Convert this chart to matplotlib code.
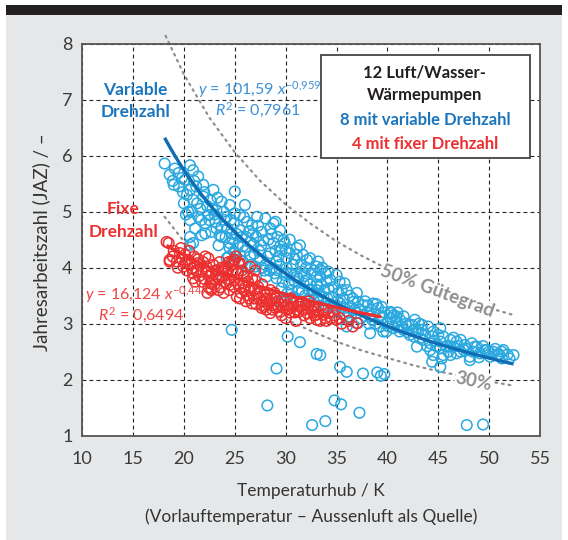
import matplotlib
matplotlib.use("Agg")
import matplotlib.pyplot as plt
from matplotlib.patches import Rectangle
import numpy as np

plt.rcParams['font.family'] = ['Lato', 'DejaVu Sans']
plt.rcParams['mathtext.fontset'] = 'custom'
plt.rcParams['mathtext.rm'] = 'Lato'
plt.rcParams['mathtext.it'] = 'Lato:italic'
plt.rcParams['mathtext.bf'] = 'Lato:bold'

# variable speed heat pumps (Temperaturhub K, JAZ)
var_points = [
    (18.1, 5.86), (18.6, 5.66), (19.0, 5.48), (19.1, 5.77), (18.9, 5.55),
    (19.45, 5.69), (19.8, 5.6), (20.1, 5.57), (20.4, 5.0), (20.6, 5.83), (20.6, 5.39),
    (20.6, 4.85), (20.6, 4.55), (20.6, 4.41), (20.9, 5.74), (20.9, 5.21), (20.9, 4.44),
    (20.3, 5.3), (20.0, 5.15),
    (21.1, 4.70), (21.4, 5.63), (21.4, 4.91), (21.75, 4.58), (21.9, 5.48), (21.9, 5.27),
    (22.1, 4.79), (22.1, 4.61), (21.6, 5.05), (22.3, 5.1), (21.2, 5.45), (22.4, 4.94),
    (22.7, 4.64), (22.9, 5.39), (23.1, 4.82), (23.2, 5.03), (23.5, 4.58), (23.7, 5.18),
    (23.7, 4.73), (23.7, 4.55), (22.6, 5.2), (23.0, 4.95), (23.4, 4.4), (23.3, 5.25),
    (24.2, 4.91), (24.2, 4.17), (24.5, 5.12), (24.5, 4.44), (24.5, 4.35), (24.7, 4.61),
    (24.9, 4.79), (24.9, 4.29), (25.0, 4.97), (25.0, 4.26), (25.0, 5.36), (24.3, 4.7),
    (24.8, 4.5), (24.0, 4.85), (25.2, 4.6),
    (25.5, 4.94), (25.5, 4.67), (25.5, 4.23), (25.8, 4.38), (25.8, 4.11), (26.0, 5.12),
    (26.2, 4.82), (26.5, 4.20), (26.5, 4.46), (26.7, 4.76), (26.8, 4.61), (26.8, 4.41),
    (26.1, 4.55), (26.3, 4.0), (25.9, 4.9),
    (27.0, 4.02), (27.2, 4.91), (27.65, 4.64), (27.8, 4.49), (28.0, 4.88), (28.0, 4.05),
    (28.1, 3.84), (28.5, 4.70), (28.5, 4.26), (27.4, 4.3), (27.5, 4.15), (28.3, 4.5),
    (27.9, 3.95), (27.3, 4.75),
    (28.8, 4.79), (28.8, 4.44), (29.0, 4.82), (29.1, 4.11), (29.1, 3.81), (29.1, 3.96),
    (29.3, 4.20), (29.45, 4.67), (29.45, 4.38), (29.6, 4.32), (29.6, 3.63), (29.6, 3.39),
    (28.7, 4.0), (29.2, 4.55), (28.9, 3.9),
    (29.8, 4.49), (29.8, 3.42), (29.9, 4.44), (29.9, 3.87), (30.1, 4.17), (30.1, 3.99),
    (30.1, 3.90), (30.4, 4.50), (30.4, 4.26), (30.6, 3.60), (30.8, 3.48), (31.1, 4.35),
    (31.1, 4.23), (31.1, 3.84), (31.1, 3.39), (30.3, 3.7), (30.7, 4.05), (30.9, 3.75),
    (31.25, 3.81), (31.6, 3.93), (31.6, 3.57), (31.7, 4.23), (31.75, 3.72), (32.1, 4.14),
    (32.1, 3.78), (32.1, 3.42), (32.4, 4.17), (31.5, 4.05), (32.3, 3.6), (31.9, 3.5),
    (32.5, 3.9),
    (32.6, 3.60), (32.7, 3.54), (33.05, 4.02), (33.05, 3.84), (33.05, 3.60), (33.2, 4.11),
    (33.2, 3.39), (33.4, 3.96), (33.4, 3.84), (33.7, 3.48), (33.9, 3.90), (34.0, 3.30),
    (33.5, 3.7), (32.9, 3.3), (33.8, 3.6),
    (34.2, 3.93), (34.2, 3.63), (34.4, 3.78), (34.5, 3.48), (35.0, 3.87), (35.0, 3.07),
    (35.35, 3.36), (35.7, 3.45), (35.7, 3.16), (35.8, 3.72), (34.8, 3.3), (35.2, 3.55),
    (34.6, 3.2), (35.5, 3.6),
    (36.0, 3.10), (36.0, 2.95), (36.65, 3.39), (37.0, 3.19), (37.1, 3.39), (37.1, 3.01),
    (37.6, 3.33), (36.3, 3.5), (36.8, 3.25), (37.4, 3.1), (36.4, 3.3),
    (38.1, 3.33), (38.3, 3.13), (38.3, 2.83), (38.5, 3.07), (38.6, 3.36), (39.1, 3.28),
    (39.3, 2.95), (39.45, 3.30), (39.6, 2.86), (39.9, 2.86), (38.8, 3.0), (39.2, 3.15),
    (38.0, 3.2),
    (40.3, 3.21), (40.3, 3.10), (40.4, 3.19), (40.6, 2.92), (40.9, 3.13), (40.9, 3.04),
    (41.2, 2.86), (41.25, 3.07), (41.6, 3.13), (41.6, 2.89), (40.0, 3.0), (41.0, 2.95),
    (42.1, 2.98), (42.2, 2.80), (42.4, 2.98), (42.6, 2.77), (42.7, 3.07), (42.9, 2.59),
    (43.2, 2.74), (43.4, 2.98), (43.4, 2.89), (43.5, 2.71), (42.5, 2.88), (43.0, 2.85),
    (44.0, 2.95), (44.2, 2.65), (44.2, 2.53), (44.4, 2.77), (44.4, 2.32), (44.5, 2.86),
    (44.5, 2.44), (45.2, 2.92), (45.2, 2.68), (45.2, 2.56), (45.2, 2.23), (45.35, 2.38),
    (45.5, 2.77), (45.5, 2.44), (44.8, 2.6),
    (46.2, 2.71), (46.2, 2.59), (46.2, 2.44), (46.5, 2.59), (46.8, 2.68), (46.8, 2.47),
    (47.2, 2.71), (47.2, 2.50), (47.5, 2.53), (47.6, 2.62),
    (48.1, 2.41), (48.1, 2.35), (48.6, 2.59), (48.8, 2.59), (49.1, 2.47), (49.6, 2.53),
    (49.8, 2.53), (48.4, 2.5),
    (50.1, 2.41), (50.4, 2.50), (51.25, 2.38), (51.25, 2.5), (51.4, 2.53), (52.4, 2.44),
    (50.8, 2.45),
    # denser fill of the band
    (19.5, 5.45), (19.9, 5.35), (20.2, 4.95), (20.8, 5.0), (21.0, 5.55), (21.3, 5.15),
    (21.7, 4.85), (22.0, 5.35), (22.5, 4.85), (22.8, 5.05), (23.2, 4.7), (23.9, 5.0),
    (24.1, 4.55), (24.6, 4.85), (24.4, 4.2), (25.3, 4.4), (25.7, 4.55), (26.0, 4.3),
    (26.4, 4.65), (26.6, 4.05), (26.9, 4.25), (27.1, 4.55), (27.6, 4.4), (27.7, 4.0),
    (28.2, 4.2), (28.4, 3.95), (28.6, 4.6), (29.0, 4.3), (29.4, 4.05), (29.7, 3.75),
    (30.0, 4.3), (30.2, 3.55), (30.5, 3.9), (30.9, 4.15), (31.3, 3.6), (31.4, 4.4),
    (31.8, 3.85), (32.0, 4.0), (32.4, 3.7), (32.8, 3.95), (33.1, 3.7), (33.3, 3.5),
    (33.6, 4.0), (34.0, 3.75), (34.1, 3.45), (34.4, 3.35), (34.7, 3.65), (35.1, 3.4),
    (35.3, 3.75), (35.6, 3.3), (36.0, 3.6), (36.2, 3.2), (36.6, 3.45), (37.0, 3.55),
    (37.3, 3.25), (37.8, 3.4), (38.2, 3.0), (38.4, 3.25), (38.9, 3.35), (39.5, 3.1),
    (39.7, 3.2), (40.1, 2.95), (40.6, 3.15), (41.0, 3.2), (41.4, 2.95), (41.8, 3.0),
    (42.0, 2.85), (42.8, 2.9), (43.1, 3.0), (43.7, 2.8), (43.9, 2.6), (44.6, 2.7),
    (45.0, 2.8), (45.8, 2.6), (46.0, 2.5), (46.5, 2.75), (47.0, 2.6), (47.8, 2.55),
    (48.3, 2.65), (49.0, 2.4), (49.4, 2.6), (50.0, 2.5), (50.6, 2.55), (51.0, 2.45),
    (51.8, 2.45), (52.0, 2.38),
    # outliers
    (24.7, 2.89), (30.2, 2.77), (31.4, 2.67), (33.05, 2.46), (33.4, 2.44), (29.1, 2.20),
    (35.35, 2.23), (36.0, 2.14), (37.6, 2.11), (39.0, 2.13), (39.7, 2.10), (39.35, 2.07),
    (28.2, 1.54), (34.8, 1.63), (35.45, 1.56), (37.25, 1.41), (32.6, 1.19), (33.9, 1.26),
    (47.8, 1.19), (49.4, 1.20),
]

# fixed speed heat pumps
fix_points = [
    (18.3, 4.46), (18.5, 4.44), (18.6, 4.14), (18.6, 4.11), (19.3, 4.11), (19.6, 4.26),
    (20.1, 4.23), (20.1, 4.08), (20.4, 4.14), (19.95, 4.02), (20.8, 3.99), (21.3, 4.08),
    (20.9, 3.81), (20.9, 3.90), (21.6, 4.05), (21.75, 3.93), (22.2, 4.02), (22.2, 3.93),
    (22.4, 4.17), (22.7, 3.90), (22.6, 3.72), (22.7, 3.60), (22.7, 3.63), (23.2, 3.84),
    (23.4, 3.81), (23.9, 3.96), (24.2, 3.90), (24.2, 3.72), (24.7, 4.11), (24.7, 4.05),
    (24.9, 4.14), (25.0, 4.14), (25.35, 4.08), (25.5, 4.08), (24.9, 3.66), (25.0, 3.78),
    (25.2, 3.48), (25.8, 3.72), (26.2, 3.51), (26.5, 3.60), (26.5, 4.02), (26.7, 3.81),
    (26.7, 3.36), (27.0, 3.78), (27.2, 3.54), (27.3, 3.66), (27.65, 3.28), (27.65, 3.33),
    (28.0, 3.51), (28.1, 3.45), (28.1, 3.25), (28.5, 3.60), (28.5, 3.19), (28.6, 3.45),
    (28.8, 3.33), (29.0, 3.28), (29.45, 3.21), (29.8, 3.28), (30.1, 3.33), (30.75, 3.36),
    (31.1, 3.25), (31.25, 3.21), (31.4, 3.30), (31.6, 3.39), (32.1, 3.28), (32.1, 3.19),
    (32.4, 3.10), (32.7, 3.30), (32.7, 3.21), (32.9, 3.25), (33.05, 3.16), (33.05, 3.07),
    (33.7, 3.25), (33.7, 3.16), (33.9, 3.10), (34.2, 3.19), (35.0, 3.07), (35.5, 3.0),
    (36.2, 3.05), (37.0, 3.01), (36.6, 2.95),
    (19.0, 4.3), (19.8, 4.15), (20.5, 4.3), (21.0, 4.2), (21.5, 3.85), (21.9, 4.1),
    (22.0, 3.8), (22.9, 4.05), (23.0, 3.7), (23.3, 3.95), (23.6, 3.65), (23.8, 3.85),
    (24.0, 4.0), (24.4, 3.8), (24.5, 3.6), (25.3, 3.9), (25.6, 3.55), (25.9, 3.85),
    (26.0, 3.65), (26.3, 3.75), (26.9, 3.45), (27.5, 3.55), (27.8, 3.4), (28.3, 3.35),
    (29.2, 3.4), (29.6, 3.15), (30.4, 3.2), (30.5, 3.45), (31.8, 3.15), (32.3, 3.4),
    (34.5, 3.1), (23.5, 4.1), (22.3, 3.55), (24.8, 3.95), (26.1, 3.4), (28.9, 3.55),
    (30.0, 3.1), (31.0, 3.05),
    (18.9, 4.2), (19.4, 4.0), (19.7, 4.35), (20.3, 3.95), (20.6, 4.05), (21.2, 3.95),
    (21.4, 4.15), (21.8, 3.75), (22.1, 4.2), (22.5, 3.85), (22.8, 3.75), (23.1, 3.95),
    (23.4, 3.6), (23.7, 4.0), (24.0, 3.75), (24.3, 3.95), (24.6, 3.7), (24.4, 4.1),
    (25.1, 3.95), (25.4, 3.7), (25.7, 3.95), (25.9, 3.6), (26.2, 3.85), (26.4, 3.45),
    (26.6, 3.65), (26.9, 3.6), (27.1, 3.35), (27.4, 3.45), (27.7, 3.7), (27.9, 3.3),
    (28.2, 3.55), (28.4, 3.4), (28.7, 3.25), (29.0, 3.45), (29.3, 3.3), (29.5, 3.35),
    (29.9, 3.4), (30.2, 3.25), (30.6, 3.3), (30.9, 3.2), (31.3, 3.35), (31.7, 3.25),
    (32.0, 3.35), (32.5, 3.25), (32.8, 3.15), (33.2, 3.3), (33.4, 3.05), (34.0, 3.05),
    (34.8, 3.15), (35.3, 3.1), (22.4, 3.65), (23.9, 3.55), (25.5, 3.45), (21.1, 3.75),
    (27.0, 3.95), (25.1, 4.2),
]

# power-law fits shown in the chart: y = a * x^b, drawn between x0 and x1
var_fit = (101.59, -0.959, 18.1, 52.4)
fix_fit = (16.124, -0.447, 18.3, 39.4)

# Gütegrad reference curves
gute_x = [18.2, 20, 22.5, 25, 27.5, 30, 32.5, 35, 37.5, 40, 42.5, 45, 47.5, 50, 52.5]
gute50_y = [8.14, 7.45, 6.68, 6.06, 5.55, 5.13, 4.78, 4.47, 4.21, 3.98, 3.77, 3.59, 3.43, 3.28, 3.15]
gute30_x = [18.1, 20, 22.5, 25, 27.5, 30, 32.5, 35, 37.5, 40, 42.5, 45, 47.5, 50, 52.5]
gute30_y = [4.91, 4.47, 4.01, 3.64, 3.33, 3.08, 2.87, 2.68, 2.52, 2.39, 2.26, 2.15, 2.06, 1.97, 1.89]

x_ticks = [10, 15, 20, 25, 30, 35, 40, 45, 50, 55]
y_ticks = [1, 2, 3, 4, 5, 6, 7, 8]

c_light = '#2aa8e0'
c_dark = '#0f6db6'
c_red = '#ec2f2f'
c_grey = '#8e8e8e'
c_text_blue = '#1b75bc'

W, H = 568, 540
fig = plt.figure(figsize=(W / 100, H / 100), dpi=100)
fig.patch.set_facecolor('white')
fig.add_artist(Rectangle((6 / W, 0), 556 / W, 526 / H, transform=fig.transFigure,
                         facecolor='#e6e7e8', edgecolor='none', zorder=-2))
fig.add_artist(Rectangle((6 / W, 1 - 14.5 / H), 556 / W, 9 / H, transform=fig.transFigure,
                         facecolor='#231f20', edgecolor='none', zorder=-1))

ax = fig.add_axes([82.2 / W, 1 - 435.7 / H, (540 - 82.2) / W, (435.7 - 43.7) / H])
ax.set_facecolor('white')
ax.set_xlim(10, 55)
ax.set_ylim(1, 8)
ax.set_xticks(x_ticks)
ax.set_yticks(y_ticks)
ax.tick_params(length=0, labelsize=13, colors='#3a3a3a')
ax.tick_params(axis='x', pad=11)
ax.tick_params(axis='y', pad=7)
ax.grid(True, color='#222222', lw=0.8, linestyle=(0, (3.5, 2.8)))
ax.set_axisbelow(True)
for s in ax.spines.values():
    s.set_color('#555555')
    s.set_linewidth(1.3)

# Gütegrad curves
ax.plot(gute_x, gute50_y, color=c_grey, lw=1.6, linestyle=(0, (0.8, 2.2)),
        dash_capstyle='round', clip_on=False, zorder=1)
ax.plot(gute30_x, gute30_y, color=c_grey, lw=1.6, linestyle=(0, (0.8, 2.2)),
        dash_capstyle='round', zorder=1)

vx, vy = zip(*var_points)
fx, fy = zip(*fix_points)
ax.scatter(vx, vy, s=58, facecolors='none', edgecolors=c_light, linewidths=1.1, zorder=3)
ax.scatter(fx, fy, s=58, facecolors='none', edgecolors=c_red, linewidths=1.1, zorder=4)

a, b, x0, x1 = var_fit
xs = np.linspace(x0, x1, 200)
ax.plot(xs, a * xs ** b, color=c_dark, lw=2.4, zorder=5, solid_capstyle='butt')
a, b, x0, x1 = fix_fit
xs = np.linspace(x0, x1, 200)
ax.plot(xs, a * xs ** b, color=c_red, lw=2.4, zorder=6, solid_capstyle='butt')

# curve labels
ax.text(44.9, 3.59, '50% Gütegrad', rotation=-20.5, ha='center', va='center',
        fontsize=13.5, fontweight='bold', color=c_grey, zorder=7, rotation_mode='anchor',
        bbox=dict(facecolor='white', edgecolor='none', pad=0.3))
ax.text(48.45, 1.97, '30%', rotation=-12, ha='center', va='center',
        fontsize=13.5, fontweight='bold', color=c_grey, zorder=7, rotation_mode='anchor',
        bbox=dict(facecolor='white', edgecolor='none', pad=0.3))

def ftext(px, py, s, **kw):
    fig.text(px / W, 1 - py / H, s, **kw)

ftext(135, 90, 'Variable', ha='center', va='center', fontsize=12.5, fontweight='bold', color=c_text_blue)
ftext(135, 112, 'Drehzahl', ha='center', va='center', fontsize=12.5, fontweight='bold', color=c_text_blue)
ftext(198, 90, r'$y$ = 101,59 $x^{-0{,}959}$', ha='left', va='center', fontsize=11.5, color='#3d90d6')
ftext(215, 110, r'$R^2$ = 0,7961', ha='left', va='center', fontsize=11.5, color='#3d90d6')

ftext(123, 209, 'Fixe', ha='center', va='center', fontsize=12.5, fontweight='bold', color=c_red)
ftext(123, 232, 'Drehzahl', ha='center', va='center', fontsize=12.5, fontweight='bold', color=c_red)
ftext(85, 295, r'$y$ = 16,124 $x^{-0{,}447}$', ha='left', va='center', fontsize=11.5, color='#ef4444')
ftext(98, 315, r'$R^2$ = 0,6494', ha='left', va='center', fontsize=11.5, color='#ef4444')

# info box
fig.add_artist(Rectangle((320.7 / W, 1 - 158 / H), (530 - 320.7) / W, 103 / H,
                         transform=fig.transFigure, facecolor='white', edgecolor='#444444',
                         lw=1.3, zorder=8))
ftext(425, 73, '12 Luft/Wasser-', ha='center', va='center', fontsize=12, fontweight='bold',
      color='#231f20', zorder=9)
ftext(425, 95, 'Wärmepumpen', ha='center', va='center', fontsize=12, fontweight='bold',
      color='#231f20', zorder=9)
ftext(425, 120, '8 mit variable Drehzahl', ha='center', va='center', fontsize=12,
      fontweight='bold', color=c_text_blue, zorder=9)
ftext(425, 144, '4 mit fixer Drehzahl', ha='center', va='center', fontsize=12,
      fontweight='bold', color=c_red, zorder=9)

# axis labels
ftext(311, 491, 'Temperaturhub / K', ha='center', va='center', fontsize=12.5, color='#333333')
ftext(311, 517, '(Vorlauftemperatur – Aussenluft als Quelle)', ha='center', va='center',
      fontsize=12.5, color='#333333')
ftext(41, 242, 'Jahresarbeitszahl (JAZ) / –', ha='center', va='center', rotation=90,
      fontsize=13.5, color='#333333')

fig.savefig('out.png', dpi=100, facecolor=fig.get_facecolor())
